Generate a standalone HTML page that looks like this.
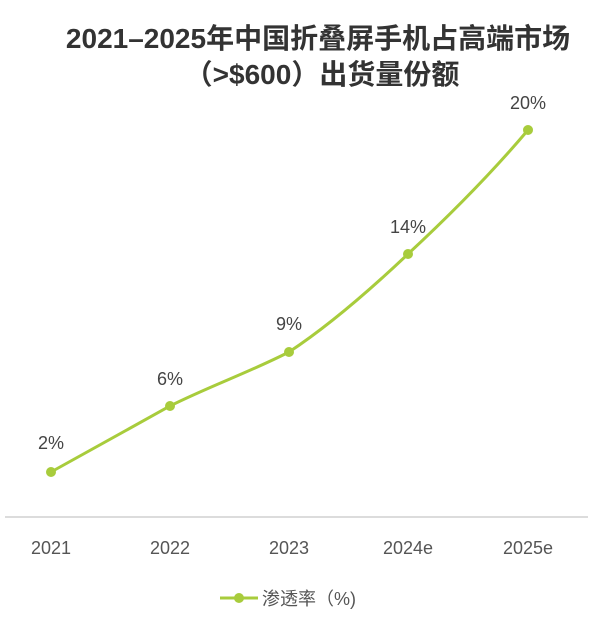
<!DOCTYPE html>
<html><head><meta charset="utf-8"><style>
body{margin:0;background:#fff;}
svg text{font-family:"Liberation Sans","Noto Sans CJK SC",sans-serif;}
</style></head><body>
<svg width="600" height="616" viewBox="0 0 600 616" xmlns="http://www.w3.org/2000/svg">
<rect width="600" height="616" fill="#fff"/>
<text x="318" y="48" text-anchor="middle" font-size="28" font-weight="bold" fill="#333">2021–2025年中国折叠屏手机占高端市场</text>
<text x="322" y="84" text-anchor="middle" font-size="28" font-weight="bold" fill="#333">（&gt;$600）出货量份额</text>
<line x1="5" y1="517" x2="588" y2="517" stroke="#d0d0d0" stroke-width="1.5"/>
<path d="M51,472 C90,450 130,428 170,406 C210,386 250,372 289,352 C330,325 370,290 408,254 C450,215 490,175 528,130" fill="none" stroke="#a8cc3c" stroke-width="3"/>
<g fill="#a8cc3c">
<circle cx="51" cy="472" r="5"/><circle cx="170" cy="406" r="5"/><circle cx="289" cy="352" r="5"/><circle cx="408" cy="254" r="5"/><circle cx="528" cy="130" r="5"/>
</g>
<g font-size="18" fill="#444" text-anchor="middle">
<text x="51" y="449">2%</text><text x="170" y="385">6%</text><text x="289" y="330">9%</text><text x="408" y="233">14%</text><text x="528" y="109">20%</text>
</g>
<g font-size="18" fill="#555" text-anchor="middle">
<text x="51" y="554">2021</text><text x="170" y="554">2022</text><text x="289" y="554">2023</text><text x="408" y="554">2024e</text><text x="528" y="554">2025e</text>
</g>
<line x1="220" y1="598" x2="258" y2="598" stroke="#a8cc3c" stroke-width="3"/>
<circle cx="239" cy="598" r="5" fill="#a8cc3c"/>
<text x="262" y="605" font-size="18" fill="#555">渗透率（%)</text>
</svg>
</body></html>
